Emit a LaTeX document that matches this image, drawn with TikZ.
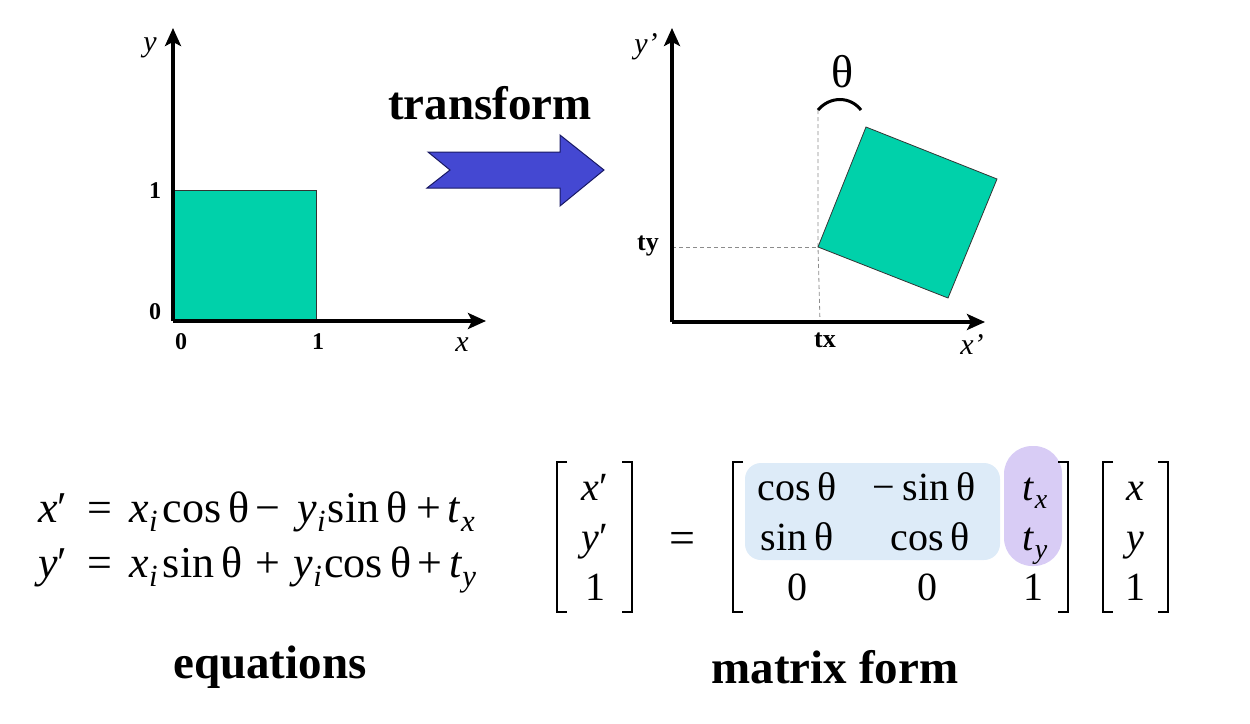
\documentclass[tikz,border=0pt]{standalone}
\usepackage{fontspec}
\setmainfont{Liberation Serif}
\usetikzlibrary{arrows.meta}
\definecolor{sq}{RGB}{0,209,170}
\definecolor{arrblue}{RGB}{68,72,210}
\definecolor{arrline}{RGB}{25,25,100}
\definecolor{hlblue}{RGB}{221,235,248}
\definecolor{hlpurple}{RGB}{216,204,245}
\newcommand{\msub}[1]{\raisebox{-0.22em}{\scalebox{0.7}{\itshape #1}}}
\newcommand{\hs}[1]{\hspace{#1em}}
\begin{document}
\begin{tikzpicture}[x=1pt,y=-1pt,
  axis/.style={line width=3.2pt,-{Stealth[length=18pt,width=16pt,inset=4pt]}},
  sqstyle/.style={fill=sq,draw=black!80,line width=0.8pt},
  lbl/.style={font=\bfseries\fontsize{24}{26}\selectfont,inner sep=0},
  tlbl/.style={font=\bfseries\fontsize{26}{28}\selectfont,inner sep=0},
  axlbl/.style={font=\itshape\fontsize{30}{32}\selectfont,inner sep=0},
  eq/.style={font=\fontsize{44}{48}\selectfont,inner sep=0,anchor=base west},
  ent/.style={font=\fontsize{40}{48}\selectfont,inner sep=0,anchor=base},
  big/.style={font=\bfseries\fontsize{47}{52}\selectfont,inner sep=0},
  brk/.style={line width=2.5pt},
  guide/.style={dashed,dash pattern=on 4pt off 3pt,line width=0.8pt,black!45}]
\useasboundingbox (0,0) rectangle (1250,723);
% left plot
\coordinate (O1) at (173,321);
\coordinate (Y1) at (173,28);
\coordinate (X1) at (486,321);
\draw[sqstyle] (173,190) rectangle (316,321);
\draw[axis] (O1) -- (Y1);
\draw[axis] (O1) -- (X1);
\node[axlbl] (ly) at (150,48) {y};
\node[lbl] (l1y) at (155,191) {1};
\node[lbl] (l0y) at (155,312) {0};
\node[lbl] (l0x) at (181,342) {0};
\node[lbl] (l1x) at (318,342) {1};
\node[axlbl] (lx) at (462,345) {x};
% transform arrow
\node[big] (tr) at (490,103) {transform};
\draw[fill=arrblue,draw=arrline,line width=1pt] (428,152) -- (560,152) -- (560,135) -- (604,170) -- (560,206) -- (560,188) -- (427,188) -- (450,170) -- cycle;
% right plot
\coordinate (O2) at (672,322);
\coordinate (Y2) at (672,28);
\coordinate (X2) at (985,322);
\coordinate (A) at (818,247);
\coordinate (B) at (866,127);
\coordinate (C) at (997,179);
\coordinate (D) at (948,298);
\coordinate (Atop) at (818,110);
\coordinate (Abot) at (820,322);
\coordinate (Aleft) at (672,247);
\draw[guide] (Aleft) -- (A);
\draw[guide] (Atop) -- (A) -- (Abot);
\draw[sqstyle] (A) -- (B) -- (C) -- (D) -- cycle;
\draw[axis] (O2) -- (Y2);
\draw[axis] (O2) -- (X2);
\draw[line width=3pt] (818,110) .. controls (830,96) and (850,96) .. (861,110);
\node[font=\fontsize{46}{50}\selectfont,inner sep=0] (th) at (843,72) {θ};
\node[axlbl] (lyp) at (646,47) {y’};
\node[axlbl] (lxp) at (972,345) {x’};
\node[tlbl] (lty) at (648,246) {ty};
\node[tlbl] (ltx) at (825,340) {tx};
% equations
\node[eq] (eq1) at (38,522) {\textit{x}′\hs{0.45}=\hs{0.4}\textit{x}\msub{i}\hs{0.12}cos\,θ\hs{0.12}−\hs{0.4}\textit{y}\msub{i}\hs{0.05}sin\,θ\hs{0.2}+\hs{0.15}\textit{t}\msub{x}};
\node[eq] (eq2) at (38,577) {\textit{y}′\hs{0.45}=\hs{0.4}\textit{x}\msub{i}\hs{0.12}sin\,θ\hs{0.3}+\hs{0.3}\textit{y}\msub{i}\hs{0.05}cos\,θ\hs{0.15}+\hs{0.15}\textit{t}\msub{y}};
% highlights
\fill[hlblue,rounded corners=16pt] (745,463) rectangle (1000,560);
\fill[hlpurple,rounded corners=28pt] (1004,446) rectangle (1062,566);
% brackets
\draw[brk] (567,462) -- (557,462) -- (557,612) -- (567,612);
\draw[brk] (622,462) -- (632,462) -- (632,612) -- (622,612);
\draw[brk] (743,462) -- (733,462) -- (733,612) -- (743,612);
\draw[brk] (1058,462) -- (1068,462) -- (1068,612) -- (1058,612);
\draw[brk] (1113,462) -- (1103,462) -- (1103,612) -- (1113,612);
\draw[brk] (1158,462) -- (1168,462) -- (1168,612) -- (1158,612);
% vector entries
\node[ent] (v1) at (595,500) {\textit{x}′};
\node[ent] (v2) at (595,550) {\textit{y}′};
\node[ent] (v3) at (595,600) {1};
\node[ent,font=\fontsize{46}{50}\selectfont] (eqs) at (682,553) {=};
\node[ent] (m11) at (797,500) {cos\,θ};
\node[ent] (m12) at (924,500) {−\hs{0.2}sin\,θ};
\node[ent] (m13) at (1035,500) {\textit{t}\msub{x}};
\node[ent] (m21) at (797,550) {sin\,θ};
\node[ent] (m22) at (930,550) {cos\,θ};
\node[ent] (m23) at (1035,550) {\textit{t}\msub{y}};
\node[ent] (m31) at (797,600) {0};
\node[ent] (m32) at (927,600) {0};
\node[ent] (m33) at (1033,600) {1};
\node[ent] (w1) at (1135,500) {\textit{x}};
\node[ent] (w2) at (1135,550) {\textit{y}};
\node[ent] (w3) at (1135,600) {1};
% captions
\node[big] (capeq) at (270,667) {equations};
\node[big] (capmf) at (835,667) {matrix form};
\end{tikzpicture}
\end{document}
